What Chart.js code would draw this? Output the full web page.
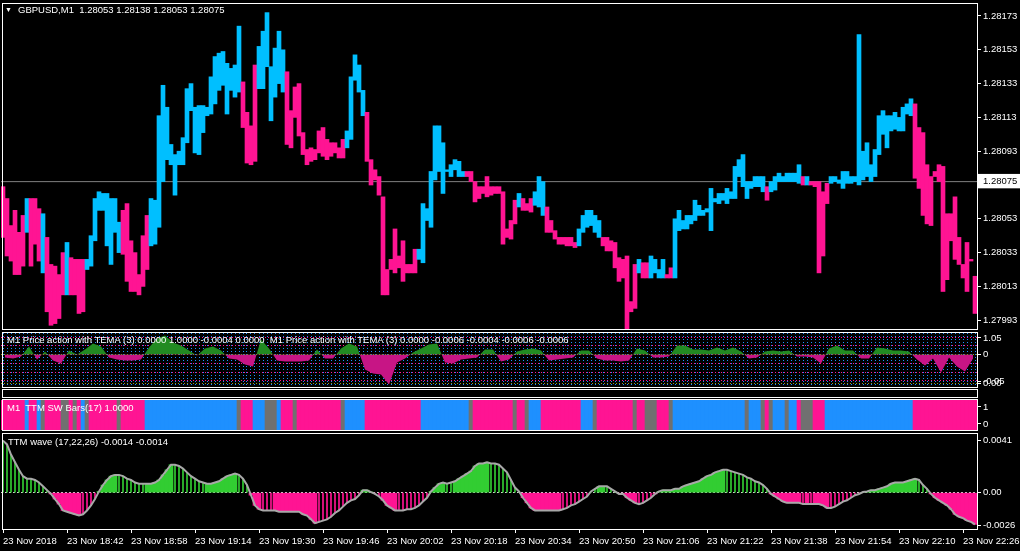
<!DOCTYPE html>
<html>
<head>
<meta charset="utf-8">
<script src="https://cdn.jsdelivr.net/npm/chart.js@4.4.0/dist/chart.umd.min.js"></script>
<style>
html, body { margin: 0; padding: 0; background: #000; overflow: hidden; }
#wrap { position: relative; width: 1020px; height: 551px; background: #000; }
canvas { position: absolute; left: 0; }
.lbl { position: absolute; color: #fff; font: 9.5px "Liberation Sans", "DejaVu Sans", sans-serif; white-space: pre; line-height: 12px; z-index: 5; }
#emptyPane { position: absolute; left: 2px; top: 389px; width: 976px; height: 9px; border: 1px solid #fff; box-sizing: border-box; }
</style>
</head>
<body>
<div id="wrap">
  <canvas id="cMain" width="1020" height="332" style="top:0px"></canvas>
  <canvas id="cTema" width="1020" height="58" style="top:331px"></canvas>
  <div id="emptyPane"></div>
  <canvas id="cSw" width="1020" height="34" style="top:398px"></canvas>
  <canvas id="cWave" width="1020" height="119" style="top:432px"></canvas>
  <div class="lbl" style="left:5px;top:4px;font-size:7px">▼</div>
  <div class="lbl" style="left:18px;top:4px">GBPUSD,M1  1.28053 1.28138 1.28053 1.28075</div>
  <div class="lbl" style="left:7px;top:334px">M1 Price action with TEMA (3) 0.0000 1.0000 -0.0004 0.0000  M1 Price action with TEMA (3) 0.0000 -0.0006 -0.0004 -0.0006 -0.0006</div>
  <div class="lbl" style="left:7px;top:402px">M1  TTM SW Bars(17) 1.0000</div>
  <div class="lbl" style="left:8px;top:436px">TTM wave (17,22,26) -0.0014 -0.0014</div>
</div>
<script>
// price bars, in points above 1.28000 (1 point = 0.00001)
const priceHigh = [
  72,65,49,58,45,55,65,65,65,59, 56,42,26,25,20,33,39,30,29,29,
  29,29,43,65,69,68,68,65,65,51, 58,62,40,33,20,43,55,65,64,114,
  132,119,97,91,93,101,130,133,119,120, 120,119,137,149,151,152,145,142,144,167,
  134,116,108,144,155,164,175,143,154,164, 153,140,117,131,133,104,94,95,94,105,
  107,100,98,98,95,100,105,137,150,144, 129,116,88,82,78,66,23,29,47,31,
  40,26,26,35,35,62,59,81,108,108, 98,82,85,88,87,81,81,81,75,72,
  72,78,72,72,72,69,47,52,64,68, 65,62,65,69,78,75,60,52,46,42,
  42,42,42,39,47,55,58,58,55,52, 42,42,40,39,30,29,31,4,26,29,
  27,27,31,29,23,29,20,24,53,58, 52,55,55,64,61,58,59,71,65,68,
  68,71,69,84,88,91,75,75,78,78, 78,72,75,78,80,78,80,80,80,85,
  78,78,75,75,75,69,74,78,78,76, 81,81,78,78,162,93,98,85,94,114,
  117,114,114,116,113,119,121,124,121,107, 104,85,78,81,85,84,56,56,66,42,
  26,39,29,19
];
const priceLow = [
  42,31,28,20,20,25,45,25,38,28, 21,-2,-10,-9,-6,8,8,8,8,-3,
  -2,23,25,40,58,58,37,26,45,33, 32,16,10,10,8,13,23,37,38,48,
  75,88,85,67,85,85,98,117,92,91, 104,114,115,121,129,132,115,129,125,128,
  107,86,85,87,130,130,143,111,125,133, 128,97,95,113,102,91,85,87,88,92,
  90,88,90,92,89,89,95,100,135,128, 114,87,73,76,67,8,8,23,21,24,
  16,21,21,21,29,27,52,48,76,81, 68,81,78,82,78,78,78,75,63,65,
  68,66,67,68,68,38,42,41,50,60, 58,58,57,61,60,55,45,45,41,38,
  38,37,37,36,37,45,48,49,45,42, 37,34,34,24,16,18,-12,-2,0,21,
  18,18,18,21,18,18,18,18,18,46, 47,47,50,52,55,55,57,46,63,62,
  64,62,65,65,78,72,65,71,72,72, 69,64,69,70,75,75,75,75,75,74,
  73,73,73,72,21,31,62,74,75,74, 71,74,74,75,73,76,78,75,78,91,
  103,95,105,106,105,105,115,114,77,71, 55,50,49,78,75,10,17,40,29,26,
  18,10,28,-3
];
// 1 = up bar (blue), -1 = down bar (pink)
const priceDir = [
  -1,-1,-1,-1,-1,-1,1,-1,-1,-1, 1,-1,-1,-1,-1,-1,1,-1,-1,-1,
  -1,1,1,1,1,1,1,1,1,1, -1,-1,-1,-1,-1,-1,-1,1,1,1,
  1,1,1,1,1,1,1,1,1,1, 1,1,1,1,1,1,1,1,1,1,
  -1,-1,-1,-1,1,1,1,1,1,1, 1,-1,-1,-1,-1,-1,-1,-1,-1,-1,
  -1,-1,-1,-1,-1,-1,1,1,1,1, 1,-1,-1,-1,-1,-1,-1,-1,-1,-1,
  -1,-1,-1,-1,1,1,1,1,1,1, 1,1,1,1,1,1,-1,-1,-1,-1,
  -1,-1,-1,-1,-1,-1,-1,-1,-1,1, -1,-1,-1,1,1,1,-1,-1,-1,-1,
  -1,-1,-1,-1,1,1,1,1,1,1, -1,-1,-1,-1,-1,-1,-1,-1,-1,1,
  -1,-1,1,1,1,1,-1,-1,1,1, 1,1,1,1,1,1,1,1,1,1,
  1,1,1,1,1,1,1,1,1,1, 1,-1,1,1,1,1,1,1,1,1,
  -1,1,-1,-1,-1,-1,-1,1,1,1, 1,1,1,1,1,1,1,1,1,1,
  1,1,1,1,1,1,1,1,-1,-1, -1,-1,-1,-1,-1,-1,-1,-1,-1,-1,
  -1,-1,-1,-1
];
const lastClose = 1.28075;
const priceTicks = [1.28173, 1.28153, 1.28133, 1.28113, 1.28093, 1.28075, 1.28053, 1.28033, 1.28013, 1.27993];

// TEMA pane, one value every two bars (pixel-like units, 0 = zero line)
const temaValues = [
  -3,-4,-2,8,-5,3,-6,-9,4,0, 5,11,8,-3,-5,-6,-6,-5,7,16,
  19,12,9,4,-1,6,8,4,-4,-5, -10,-12,15,6,-6,-7,-7,-7,-6,5,
  -4,-4,6,11,8,-15,-19,-20,-30,-8, -4,2,6,10,11,-8,-9,-5,-4,-3,
  5,5,-7,-5,3,5,6,4,-6,-5, -4,-3,4,4,-4,-6,-6,-7,-6,6,
  4,-3,-3,-2,9,9,5,5,4,7, 4,7,3,-4,-3,3,4,3,4,-2,
  -2,-3,-9,6,9,4,4,-4,-4,7, 6,4,4,3,-5,-11,-4,-18,-3,-12,
  -17,-4
];
const temaTickValues = [16.5, 0, -26.5, -28.5];
const temaTickLabels = ['1.05', '0', '-0.05', '0.00'];
const temaDotRows = [17.5, 8.5, -8.5, -17.5, -25.5];

// TTM SW bars: 1 = blue, -1 = pink, 0 = gray
const swState = [
  -1,-1,-1,-1,-1,-1,1,-1,-1,1, 0,-1,-1,-1,-1,0,0,-1,0,-1,
  1,0,-1,-1,-1,-1,-1,-1,-1,0, -1,-1,-1,-1,-1,-1,1,1,1,1,
  1,1,1,1,1,1,1,1,1,1, 1,1,1,1,1,1,1,1,1,0,
  -1,-1,-1,1,1,1,0,0,0,1, -1,-1,-1,0,-1,-1,-1,-1,-1,-1,
  -1,-1,-1,-1,-1,0,1,1,1,1, 1,-1,-1,-1,-1,-1,-1,-1,-1,-1,
  -1,-1,-1,-1,-1,1,1,1,1,1, 1,1,1,1,1,1,1,0,-1,-1,
  -1,-1,-1,-1,-1,-1,-1,-1,0,-1, -1,0,1,1,1,-1,-1,-1,-1,-1,
  -1,-1,-1,-1,-1,1,1,1,0,-1, -1,-1,-1,-1,-1,-1,-1,-1,0,-1,
  -1,0,0,0,-1,-1,-1,0,1,1, 1,1,1,1,1,1,1,1,1,1,
  1,1,1,1,1,1,0,1,1,1, 0,-1,0,1,1,1,0,1,1,-1,
  0,0,0,-1,-1,-1,1,1,1,1, 1,1,1,1,1,1,1,1,1,1,
  1,1,1,1,1,1,1,1,-1,-1, -1,-1,-1,-1,-1,-1,-1,-1,-1,-1,
  -1,-1,-1,-1
];
const swLow = -0.4, swHigh = 1.5;

// TTM wave, units of 0.0001
const waveValues = [
  41,38,30,24,18,13,11,11,10,8, 5,2,-1,-5,-9,-14,-15,-16,-17,-18,
  -17,-14,-10,-5,1,6,10,13,14,14, 13,11,10,8,7,7,7,7,8,10,
  14,18,22,22,21,19,16,13,11,9, 8,7,7,8,9,11,13,14,15,14,
  11,6,-2,-10,-13,-14,-14,-14,-14,-15, -15,-15,-15,-15,-15,-17,-18,-21,-24,-23,
  -22,-21,-19,-16,-14,-11,-8,-6,-5,-2, 2,2,0.5,-1,-3,-6,-10,-12,-14,-14,
  -14,-13,-13,-12,-10,-7,-4,1,4,7, 8,7,8,9,11,13,15,17,21,23,
  23,24,23,23,22,19,16,10,4,1, -4,-8,-12,-14,-14,-14,-14,-14,-14,-14,
  -13,-12,-10,-9,-7,-5,-3,1,3,5, 5,5,3,1,-1,-1,-4,-6,-8,-9,
  -8,-6,-4,-1,1,2,2,2,3,3, 5,6,7,8,9,11,13,14,16,17,
  18,18,17,16,15,14,12,11,9,8, 6,3,-1,-3,-5,-7,-8,-8,-8,-8,
  -9,-9,-9,-9,-9,-10,-12,-12,-11,-9, -7,-6,-4,-2,-1,0.5,1,2,2,3,
  4,5,7,8,8,8,9,10,11,10, 6,3,-1,-4,-6,-8,-10,-13,-17,-19,
  -20,-22,-23,-25
];
// 1 = filled histogram bar, 0 = thin line bar
const waveSolid = [
  0,0,0,0,0,0,0,0,0,0, 0,0,1,1,1,1,1,1,1,1,
  0,0,0,0,1,1,1,1,1,0, 0,0,0,0,0,0,1,1,1,1,
  1,1,1,0,0,0,0,0,0,0, 0,1,1,1,1,1,1,1,1,0,
  0,0,1,1,1,0,0,0,1,1, 1,1,1,1,1,1,1,1,1,0,
  0,0,0,0,0,0,0,0,0,0, 1,1,1,0,0,1,1,1,1,0,
  0,0,0,0,0,0,0,1,1,1, 1,0,0,1,1,1,1,1,1,1,
  1,1,0,0,0,0,0,0,0,0, 1,1,1,1,1,1,1,1,1,1,
  0,0,0,0,0,0,0,0,0,1, 1,0,0,0,0,1,1,1,1,0,
  0,0,0,1,1,1,1,1,1,1, 1,1,1,1,1,1,1,1,1,1,
  1,0,0,0,0,0,0,0,0,0, 0,0,1,1,1,1,1,1,1,1,
  0,1,0,1,1,1,1,0,0,0, 0,0,0,0,0,0,1,1,1,1,
  1,1,1,1,1,1,1,1,1,0, 0,0,1,1,1,1,1,1,1,1,
  1,1,1,1
];
const waveTickValues = [41, 0, -26];
const waveTickLabels = ['0.0041', '0.00', '-0.0026'];

const timeTickBars = [1, 17, 33, 49, 65, 81, 97, 113, 129, 145, 161, 177, 193, 209, 225, 241];
const timeLabels = ['23 Nov 2018', '23 Nov 18:42', '23 Nov 18:58', '23 Nov 19:14', '23 Nov 19:30',
  '23 Nov 19:46', '23 Nov 20:02', '23 Nov 20:18', '23 Nov 20:34', '23 Nov 20:50', '23 Nov 21:06',
  '23 Nov 21:22', '23 Nov 21:38', '23 Nov 21:54', '23 Nov 22:10', '23 Nov 22:26'];

const BLUE = '#00BFFF', PINK = '#FF1493';
const SW_BLUE = '#1E90FF', SW_GRAY = '#707070';
const TEMA_UP = '#228B22', TEMA_DN = '#C71585';
const WAVE_UP = '#32CD32', WAVE_DN = '#FF1493';

Chart.defaults.font.family = '"Liberation Sans", "DejaVu Sans", sans-serif';
Chart.defaults.font.size = 9.5;
Chart.defaults.color = '#fff';
Chart.defaults.animation = false;

const barIndex = priceHigh.map((_, i) => i + 1);
const toPrice = p => 1.28 + p / 100000;

// white frame round each pane
const paneFrame = {
  id: 'paneFrame',
  afterDraw(chart) {
    const a = chart.chartArea, ctx = chart.ctx;
    ctx.save();
    ctx.strokeStyle = '#fff';
    ctx.lineWidth = 1;
    ctx.strokeRect(a.left + 1.5, a.top - 0.5, a.right - a.left - 1, a.bottom - a.top + 1);
    ctx.restore();
  }
};

function commonOptions(padding) {
  return {
    responsive: false,
    animation: false,
    events: [],
    layout: { padding: padding },
    plugins: { legend: { display: false }, tooltip: { enabled: false } }
  };
}

function hiddenX() {
  return { type: 'linear', min: 0.5, max: 244.5, offset: false, display: false };
}

function rightAxis(min, max, values, labels) {
  return {
    type: 'linear', position: 'right', min: min, max: max,
    afterBuildTicks: s => { s.ticks = values.map(v => ({ value: v })); },
    afterFit: s => { s.width = 43; s.paddingTop = 0; s.paddingBottom = 0; },
    ticks: { autoSkip: false, padding: 2, color: '#fff', callback: (v, i) => labels[i] },
    grid: { drawOnChartArea: false, tickLength: 4, color: '#fff' },
    border: { display: false }
  };
}

// main price pane
const mainY = rightAxis(1.279878, 1.281801, priceTicks, priceTicks.map(v => v.toFixed(5)));
mainY.ticks.showLabelBackdrop = true;
mainY.ticks.backdropPadding = { top: 2, bottom: 1, left: 5, right: 5 };
mainY.ticks.backdropColor = ctx => ctx.tick && ctx.tick.value === lastClose ? '#fff' : 'rgba(0,0,0,0)';
mainY.ticks.color = ctx => ctx.tick && ctx.tick.value === lastClose ? '#000' : '#fff';

new Chart(document.getElementById('cMain'), {
  type: 'bar',
  data: {
    datasets: [
      {
        type: 'bar',
        data: barIndex.map((k, i) => ({ x: k, y: [toPrice(priceLow[i]), toPrice(priceHigh[i])] })),
        backgroundColor: priceDir.map(d => d > 0 ? BLUE : PINK),
        barThickness: 4, grouped: false, minBarLength: 1, borderWidth: 0, order: 1
      },
      {
        type: 'line',
        data: [{ x: 0.5, y: lastClose }, { x: 244.5, y: lastClose }],
        borderColor: '#808080', borderWidth: 1, pointRadius: 0, order: 2
      }
    ]
  },
  options: Object.assign(commonOptions({ left: 1, top: 4, right: 0, bottom: 3 }), {
    scales: { x: hiddenX(), y: mainY }
  }),
  plugins: [paneFrame]
});

// TEMA pane
const temaY = rightAxis(-32.5, 21.5, temaTickValues.concat(temaDotRows),
  temaTickLabels.concat(temaDotRows.map(() => '')));
temaY.grid = {
  drawOnChartArea: true, tickLength: 4,
  color: ctx => {
    const v = ctx.tick ? ctx.tick.value : null;
    if (v === 0 || v === -28.5) return '#9a9a20';
    if (temaDotRows.includes(v)) return PINK;
    return 'rgba(0,0,0,0)';
  },
  tickColor: ctx => (ctx.tick && temaTickValues.includes(ctx.tick.value)) ? '#fff' : 'rgba(0,0,0,0)'
};
temaY.border = { display: false, dash: [1, 2] };

new Chart(document.getElementById('cTema'), {
  type: 'line',
  data: {
    datasets: [{
      data: temaValues.map((v, i) => ({ x: 1.5 + 2 * i, y: v })),
      borderWidth: 0, borderColor: 'rgba(0,0,0,0)', pointRadius: 0,
      fill: { target: 'origin', above: TEMA_UP, below: TEMA_DN }
    }]
  },
  options: Object.assign(commonOptions({ left: 1, top: 2, right: 0, bottom: 2 }), {
    scales: {
      x: {
        type: 'linear', min: 0.5, max: 244.5, offset: false,
        afterBuildTicks: s => { s.ticks = barIndex.map(v => ({ value: v })); },
        afterFit: s => { s.height = 0; s.paddingLeft = 0; s.paddingRight = 0; },
        ticks: { display: false },
        grid: { drawTicks: false, color: SW_BLUE },
        border: { display: false, dash: [1, 2] }
      },
      y: temaY
    }
  }),
  plugins: [paneFrame]
});

// TTM SW bars pane
new Chart(document.getElementById('cSw'), {
  type: 'bar',
  data: {
    datasets: [{
      data: barIndex.map(k => ({ x: k, y: [swLow, swHigh] })),
      backgroundColor: swState.map(s => s > 0 ? SW_BLUE : (s < 0 ? PINK : SW_GRAY)),
      barThickness: 4, grouped: false, borderWidth: 0
    }]
  },
  options: Object.assign(commonOptions({ left: 1, top: 2, right: 0, bottom: 2 }), {
    scales: { x: hiddenX(), y: rightAxis(-0.353, 1.41, [1, 0], ['1', '0']) }
  }),
  plugins: [paneFrame]
});

// TTM wave pane
const waveY = rightAxis(-28.6, 46.2, waveTickValues, waveTickLabels);
waveY.grid = {
  drawOnChartArea: true, tickLength: 4, tickColor: '#fff',
  color: ctx => ctx.tick && ctx.tick.value === 0 ? '#d0d0d0' : 'rgba(0,0,0,0)'
};
waveY.border = { display: false, dash: [2, 2] };

const waveColor = v => v >= 0 ? WAVE_UP : WAVE_DN;

new Chart(document.getElementById('cWave'), {
  type: 'bar',
  data: {
    datasets: [
      {
        type: 'line',
        data: barIndex.map((k, i) => ({ x: k, y: waveValues[i] })),
        borderColor: '#a8a8a8', borderWidth: 2, pointRadius: 0, order: 0
      },
      {
        type: 'bar',
        data: barIndex.map((k, i) => ({ x: k, y: waveSolid[i] ? waveValues[i] : null })),
        backgroundColor: waveValues.map(waveColor),
        barThickness: 4, grouped: false, borderWidth: 0, order: 1
      },
      {
        type: 'bar',
        data: barIndex.map((k, i) => ({ x: k, y: waveSolid[i] ? null : waveValues[i] })),
        backgroundColor: waveValues.map(waveColor),
        barThickness: 1, grouped: false, borderWidth: 0, order: 2
      }
    ]
  },
  options: Object.assign(commonOptions({ left: 1, top: 2, right: 0, bottom: 0 }), {
    scales: {
      x: {
        type: 'linear', min: 0.5, max: 244.5, offset: false,
        afterBuildTicks: s => { s.ticks = timeTickBars.map(v => ({ value: v })); },
        afterFit: s => { s.height = 22; s.paddingLeft = 0; s.paddingRight = 0; },
        ticks: { autoSkip: false, maxRotation: 0, minRotation: 0, align: 'start', padding: 3,
                 color: '#fff', callback: (v, i) => timeLabels[i] },
        grid: { drawOnChartArea: false, tickLength: 4, color: '#fff', offset: false },
        border: { display: false }
      },
      y: waveY
    }
  }),
  plugins: [paneFrame]
});
</script>
</body>
</html>
